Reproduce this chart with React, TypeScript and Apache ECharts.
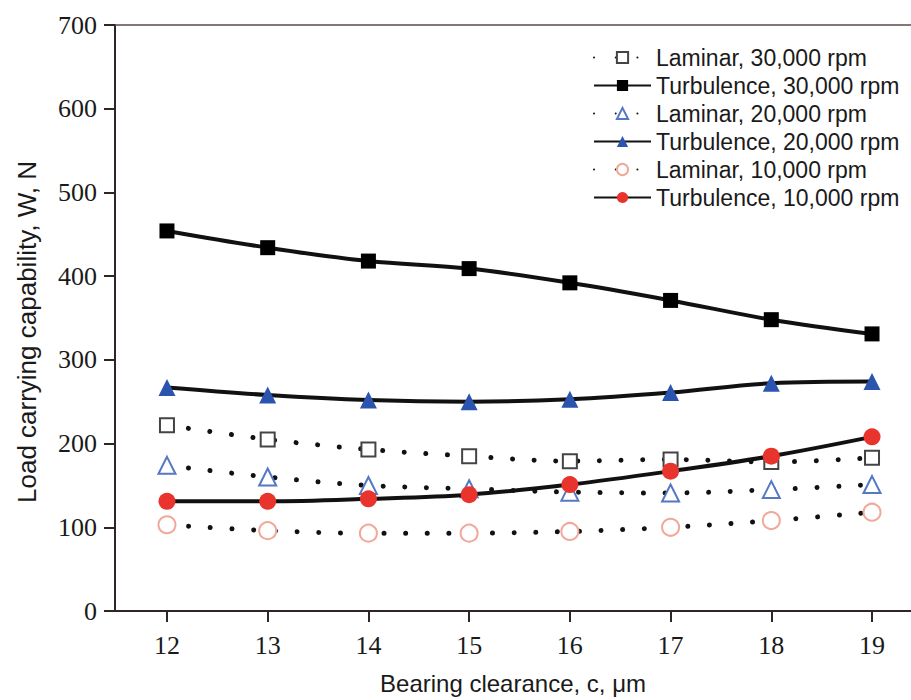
import React, { useEffect, useRef } from "react";
import * as echarts from "echarts";

const clearance = [12, 13, 14, 15, 16, 17, 18, 19];
const xTickValues = [12, 13, 14, 15, 16, 17, 18, 19];

const laminar30k = [222, 205, 193, 185, 179, 181, 178, 183];
const turbulence30k = [454, 434, 418, 409, 392, 371, 348, 331];
const laminar20k = [174, 160, 150, 146, 142, 141, 145, 151];
const turbulence20k = [267, 258, 252, 250, 253, 261, 272, 274];
const laminar10k = [103, 96, 93, 93, 95, 100, 108, 118];
const turbulence10k = [131, 131, 134, 139, 151, 167, 185, 208];

const seriesNames = [
  "Laminar, 30,000 rpm",
  "Turbulence, 30,000 rpm",
  "Laminar, 20,000 rpm",
  "Turbulence, 20,000 rpm",
  "Laminar, 10,000 rpm",
  "Turbulence, 10,000 rpm",
];

const pair = (vals: number[]) => clearance.map((c, i) => [c, vals[i]]);

export default function App() {
  const ref = useRef<HTMLDivElement>(null);
  useEffect(() => {
    if (!ref.current) return;
    const chart = echarts.init(ref.current, undefined, { renderer: "svg" });
    const axisColor = "#2e2626";
    const dotted = {
      color: "#111",
      width: 5,
      type: [0.01, 21.7] as any,
      cap: "round" as const,
    };
    const solid = { color: "#111", width: 4 };
    const laminar = (name: string, data: number[], symbol: string, size: number, color: string) => ({
      name,
      type: "line",
      data: pair(data),
      smooth: 0.35,
      symbol,
      symbolSize: size,
      showSymbol: true,
      lineStyle: dotted,
      itemStyle: { color: "#fff", borderColor: color, borderWidth: 2 },
      z: 2,
    });
    const turb = (name: string, data: number[], symbol: string, size: number, color: string) => ({
      name,
      type: "line",
      data: pair(data),
      smooth: 0.35,
      symbol,
      symbolSize: size,
      showSymbol: true,
      lineStyle: solid,
      itemStyle: { color, borderWidth: 0 },
      z: 3,
    });
    chart.setOption({
      animation: false,
      backgroundColor: "#fff",
      grid: { left: 115, right: 0, top: 25, bottom: 88, containLabel: false },
      legend: {
        left: 588,
        top: 41,
        orient: "vertical",
        itemWidth: 57,
        itemHeight: 14,
        itemGap: 5,
        textStyle: { fontFamily: "Liberation Sans, Arial", fontSize: 23, color: "#1a1a1a" },
        data: seriesNames,
      },
      xAxis: [
        {
          type: "value",
          min: 11.484,
          max: 19.387,
          name: "Bearing clearance, c, \u03bcm",
          nameLocation: "middle",
          nameGap: 60,
          nameTextStyle: { fontFamily: "Liberation Sans, Arial", fontSize: 24, color: "#1a1a1a" },
          axisLine: { show: true, lineStyle: { color: axisColor, width: 2 } },
          axisTick: { show: true, length: 11, customValues: xTickValues, lineStyle: { color: axisColor, width: 2 } },
          axisLabel: {
            customValues: xTickValues,
            margin: 21,
            fontFamily: "Liberation Serif, Times New Roman",
            fontSize: 26,
            color: "#1a1a1a",
          },
          splitLine: { show: false },
        },
        {
          type: "value",
          position: "top",
          min: 11.484,
          max: 19.387,
          axisLine: { show: true, lineStyle: { color: "#5a4a4a", width: 1.5 } },
          axisTick: { show: false },
          axisLabel: { show: false },
          splitLine: { show: false },
        },
      ],
      yAxis: {
        type: "value",
        min: 0,
        max: 700,
        interval: 100,
        name: "Load carrying capability, W, N",
        nameLocation: "middle",
        nameGap: 75,
        nameRotate: 90,
        nameTextStyle: {
          fontFamily: "Liberation Sans, Arial",
          fontSize: 26,
          color: "#1a1a1a",
          padding: [0, 28, 0, 0],
        },
        axisLine: { show: true, lineStyle: { color: axisColor, width: 2 } },
        axisTick: { show: true, length: 11, lineStyle: { color: axisColor, width: 2 } },
        axisLabel: {
          margin: 18,
          fontFamily: "Liberation Serif, Times New Roman",
          fontSize: 26,
          color: "#1a1a1a",
        },
        splitLine: { show: false },
      },
      series: [
        laminar(seriesNames[0], laminar30k, "rect", 14, "#444"),
        turb(seriesNames[1], turbulence30k, "rect", 15, "#000"),
        laminar(seriesNames[2], laminar20k, "triangle", 17, "#5577c4"),
        turb(seriesNames[3], turbulence20k, "triangle", 17, "#2a54ad"),
        laminar(seriesNames[4], laminar10k, "circle", 17, "#f2a898"),
        turb(seriesNames[5], turbulence10k, "circle", 17, "#e8342c"),
      ],
    });
    return () => chart.dispose();
  }, []);
  return (
    <div
      ref={ref}
      style={{ position: "fixed", left: 0, top: 0, width: 911, height: 700, background: "#fff" }}
    />
  );
}
